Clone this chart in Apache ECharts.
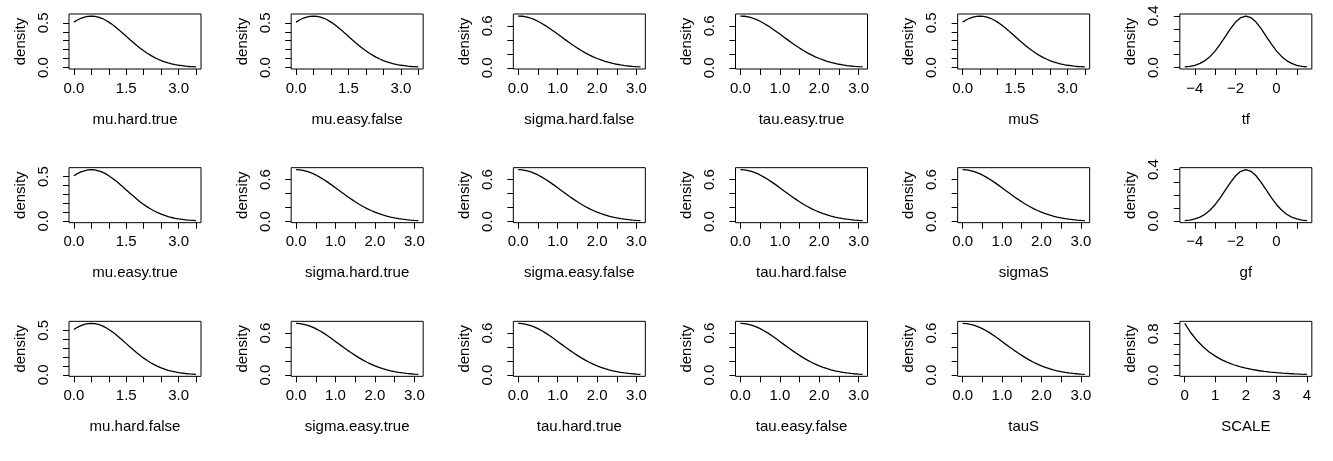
<!DOCTYPE html>
<html>
<head>
<meta charset="utf-8">
<script src="https://cdn.jsdelivr.net/npm/echarts@6/dist/echarts.min.js"></script>
<style>
html,body{margin:0;padding:0;background:#fff;}
#c{width:1333px;height:461px;}
</style>
</head>
<body>
<div id="c"></div>
<script>
// ---- data ----
const muX = [0,0.1,0.2,0.3,0.4,0.5,0.6,0.7,0.8,0.9,1.0,1.1,1.2,1.3,1.4,1.5,1.6,1.7,1.8,1.9,2.0,2.1,2.2,2.3,2.4,2.5,2.6,2.7,2.8,2.9,3.0,3.1,3.2,3.3,3.4,3.5];
const muDensity = [0.509,0.533,0.552,0.565,0.574,0.577,0.574,0.565,0.552,0.533,0.509,0.482,0.452,0.419,0.385,0.350,0.315,0.281,0.248,0.216,0.187,0.160,0.136,0.114,0.095,0.078,0.064,0.051,0.041,0.032,0.025,0.020,0.015,0.011,0.009,0.006];

const sigmaX = [0,0.1,0.2,0.3,0.4,0.5,0.6,0.7,0.8,0.9,1.0,1.1,1.2,1.3,1.4,1.5,1.6,1.7,1.8,1.9,2.0,2.1,2.2,2.3,2.4,2.5,2.6,2.7,2.8,2.9,3.0,3.1];
const sigmaDensity = [0.740,0.737,0.727,0.712,0.691,0.665,0.634,0.600,0.562,0.523,0.482,0.440,0.399,0.358,0.319,0.282,0.247,0.214,0.184,0.157,0.133,0.112,0.093,0.076,0.0625,0.0506,0.0407,0.0324,0.0256,0.0200,0.0156,0.0120];

const fX = [-4.5,-4.25,-4,-3.75,-3.5,-3.25,-3,-2.75,-2.5,-2.25,-2,-1.75,-1.5,-1.25,-1,-0.75,-0.5,-0.25,0,0.25,0.5,0.75,1,1.25,1.5];
const fDensity = [0.0044,0.0091,0.0175,0.0317,0.0540,0.0863,0.1295,0.1826,0.2420,0.3011,0.3521,0.3867,0.3989,0.3867,0.3521,0.3011,0.2420,0.1826,0.1295,0.0863,0.0540,0.0317,0.0175,0.0091,0.0044];

const scaleX = [0,0.2,0.4,0.6,0.8,1.0,1.2,1.4,1.6,1.8,2.0,2.2,2.4,2.6,2.8,3.0,3.2,3.4,3.6,3.8,4.0];
const scaleDensity = [1.000,0.819,0.670,0.549,0.449,0.368,0.301,0.247,0.202,0.165,0.135,0.111,0.091,0.074,0.061,0.050,0.041,0.033,0.027,0.022,0.018];

// tick positions and labels
const muXTicks = [0,0.5,1,1.5,2,2.5,3,3.5];
const muXLabels = [0,1.5,3];
const muYTicks = [0,0.1,0.2,0.3,0.4,0.5];
const muYLabels = [0,0.5];

const sigmaXTicks = [0,0.5,1,1.5,2,2.5,3];
const sigmaXLabels = [0,1,2,3];
const sigmaYTicks = [0,0.2,0.4,0.6];
const sigmaYLabels = [0,0.6];

const fXTicks = [-4,-3,-2,-1,0,1];
const fXLabels = [-4,-2,0];
const fYTicks = [0,0.1,0.2,0.3,0.4];
const fYLabels = [0,0.4];

const scaleXTicks = [0,1,2,3,4];
const scaleXLabels = [0,1,2,3,4];
const scaleYTicks = [0,0.2,0.4,0.6,0.8,1.0];
const scaleYLabels = [0,0.8];

const panelNames = [
  'mu.hard.true','mu.easy.false','sigma.hard.false','tau.easy.true','muS','tf',
  'mu.easy.true','sigma.hard.true','sigma.easy.false','tau.hard.false','sigmaS','gf',
  'mu.hard.false','sigma.easy.true','tau.hard.true','tau.easy.false','tauS','SCALE'
];
const panelKinds = [
  'mu','mu','sigma','sigma','mu','f',
  'mu','sigma','sigma','sigma','sigma','f',
  'mu','sigma','sigma','sigma','sigma','scale'
];

// ---- build ----
const kinds = {
  mu:    {x: muX, y: muDensity, xt: muXTicks, xl: muXLabels, yt: muYTicks, yl: muYLabels, xd: 1, yd: 1},
  sigma: {x: sigmaX, y: sigmaDensity, xt: sigmaXTicks, xl: sigmaXLabels, yt: sigmaYTicks, yl: sigmaYLabels, xd: 1, yd: 1},
  f:     {x: fX, y: fDensity, xt: fXTicks, xl: fXLabels, yt: fYTicks, yl: fYLabels, xd: 0, yd: 1},
  scale: {x: scaleX, y: scaleDensity, xt: scaleXTicks, xl: scaleXLabels, yt: scaleYTicks, yl: scaleYLabels, xd: 0, yd: 1}
};

function fmt(v, d) {
  let s = Math.abs(v).toFixed(d);
  if (v < 0) s = '\u2212' + s;
  return s;
}
function ext(arr) {
  const lo = Math.min.apply(null, arr), hi = Math.max.apply(null, arr);
  const pad = (hi - lo) * 0.04;
  return [lo - pad, hi + pad];
}

const FONT = 'Liberation Sans, Arial, Helvetica, sans-serif';
const FS = 15;
const CW = 1333 / 6, CH = 461 / 3;
const grids = [], xAxes = [], yAxes = [], series = [];

panelNames.forEach((name, i) => {
  const r = Math.floor(i / 6), c = i % 6;
  const k = kinds[panelKinds[i]];
  const xr = ext(k.x), yr = ext(k.y);
  grids.push({
    left: c * CW + 69, top: r * CH + 14, width: 132, height: 55,
    show: true, borderColor: '#000', borderWidth: 1, backgroundColor: 'transparent'
  });
  xAxes.push({
    type: 'value', gridIndex: i, min: xr[0], max: xr[1], position: 'bottom',
    name: name, nameLocation: 'middle', nameGap: 43,
    nameTextStyle: {color: '#000', fontSize: FS, fontFamily: FONT},
    axisLine: {show: false, onZero: false},
    axisTick: {show: true, inside: false, length: 6, customValues: k.xt, lineStyle: {color: '#000', width: 1}},
    axisLabel: {show: true, customValues: k.xl, margin: 12, color: '#000', fontSize: FS, fontFamily: FONT,
      formatter: v => fmt(v, k.xd), hideOverlap: false},
    splitLine: {show: false}
  });
  yAxes.push({
    type: 'value', gridIndex: i, min: yr[0], max: yr[1], position: 'left',
    name: 'density', nameLocation: 'middle', nameGap: 41, nameRotate: 90,
    nameTextStyle: {color: '#000', fontSize: FS, fontFamily: FONT},
    axisLine: {show: false, onZero: false},
    axisTick: {show: true, inside: false, length: 6, customValues: k.yt, lineStyle: {color: '#000', width: 1}},
    axisLabel: {show: true, customValues: k.yl, rotate: 90, margin: 18, color: '#000', fontSize: FS, fontFamily: FONT,
      formatter: v => fmt(v, k.yd), hideOverlap: false},
    splitLine: {show: false}
  });
  series.push({
    type: 'line', xAxisIndex: i, yAxisIndex: i,
    data: k.x.map((xv, j) => [xv, k.y[j]]),
    showSymbol: false, symbol: 'none', smooth: false,
    lineStyle: {color: '#000', width: 1.3},
    silent: true, animation: false
  });
});

const chart = echarts.init(document.getElementById('c'), null, {renderer: 'canvas'});
chart.setOption({
  backgroundColor: '#fff',
  animation: false,
  grid: grids, xAxis: xAxes, yAxis: yAxes, series: series
});
</script>
</body>
</html>
